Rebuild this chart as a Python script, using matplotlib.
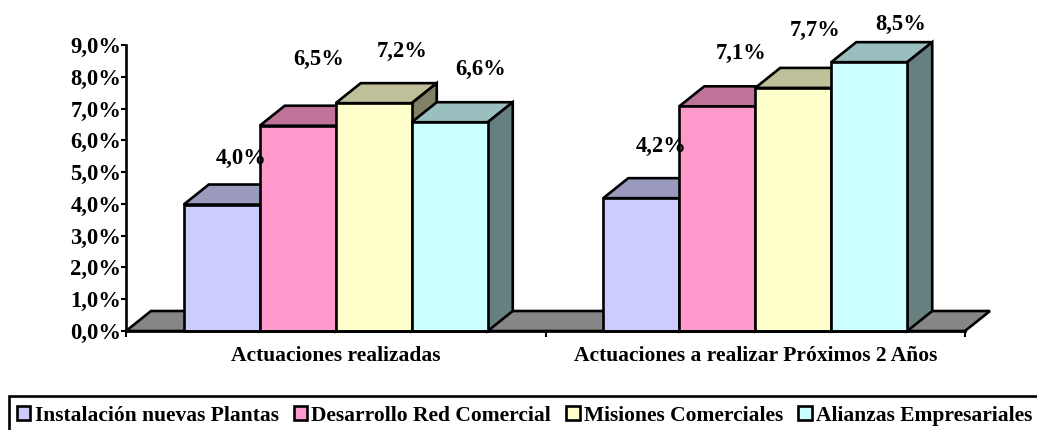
#!/usr/bin/env python
# grouped pseudo-3D column chart of company actions, front faces via ax.bar, depth faces via ax.fill
import matplotlib
matplotlib.use("Agg")
import matplotlib.pyplot as plt
from matplotlib.patches import Patch, Rectangle
from matplotlib.ticker import FuncFormatter

plt.rcParams['font.family'] = ['Liberation Serif', 'DejaVu Serif']
plt.rcParams['font.weight'] = 'bold'

categories = ["Actuaciones realizadas", "Actuaciones a realizar Próximos 2 Años"]
series_names = ["Instalación nuevas Plantas", "Desarrollo Red Comercial",
                "Misiones Comerciales", "Alianzas Empresariales"]
bar_values = [[3.98, 4.18], [6.46, 7.07], [7.17, 7.65], [6.57, 8.46]]
label_values = [[4.0, 4.2], [6.5, 7.1], [7.2, 7.7], [6.6, 8.5]]

# styles: front, top, side colours
front_colors = ["#ccccff", "#ff99cc", "#ffffcc", "#ccffff"]
top_colors = ["#9a9abf", "#bf7399", "#bfbf9a", "#9abfbf"]
side_colors = ["#7a7a99", "#995c7a", "#808066", "#668080"]
floor_color = "#868686"

# label offsets from the bar top, in pixels (they are hand placed in the original)
label_dx = [[19, 20], [21, 24], [28, 22], [31, 31]]
label_dy = [[46, 52], [66, 53], [52, 57], [53, 38]]

W, H = 1037, 430
fig = plt.figure(figsize=(W / 100, H / 100), dpi=100)
left, right, top, bottom = 126, 965, 45, 331
ax = fig.add_axes([left / W, 1 - bottom / H, (right - left) / W, (bottom - top) / H])
ax.set_xlim(0, 2)
ax.set_ylim(0, 9)
ax.patch.set_visible(False)

# depth of the 3D effect in data units
depth_x = 25 / ((right - left) / 2)
depth_y = 20 / ((bottom - top) / 9)
bar_w = 76 / ((right - left) / 2)
px = 72 / 100
lw = 1.9

# floor
ax.fill([0, 2, 2 + depth_x, depth_x], [0, 0, depth_y, depth_y], facecolor=floor_color,
        edgecolor="black", linewidth=lw, clip_on=False, zorder=1)

z = 2
for c in range(len(categories)):
    for s in range(len(series_names)):
        x0 = c + 0.5 + (s - 2) * bar_w
        x1 = x0 + bar_w
        v = bar_values[s][c]
        ax.fill([x0, x1, x1 + depth_x, x0 + depth_x], [v, v, v + depth_y, v + depth_y],
                facecolor=top_colors[s], edgecolor="black", linewidth=lw, clip_on=False, zorder=z)
        ax.fill([x1, x1 + depth_x, x1 + depth_x, x1], [0, depth_y, v + depth_y, v],
                facecolor=side_colors[s], edgecolor="black", linewidth=lw, clip_on=False, zorder=z)
        ax.bar(x0, v, width=bar_w, align='edge', color=front_colors[s], edgecolor="black",
               linewidth=lw, clip_on=False, zorder=z + 0.5)
        z += 1

for c in range(len(categories)):
    for s in range(len(series_names)):
        x0 = c + 0.5 + (s - 2) * bar_w
        ax.annotate(f"{label_values[s][c]:.1f}%".replace(".", ","),
                    xy=(x0 + bar_w / 2, bar_values[s][c]),
                    xytext=(label_dx[s][c] * px, label_dy[s][c] * px), textcoords='offset points',
                    ha='center', va='center', fontsize=16.3, fontweight='bold', zorder=50,
                    annotation_clip=False)

for side in ['top', 'right']:
    ax.spines[side].set_visible(False)
ax.spines['left'].set_linewidth(lw)
ax.spines['bottom'].set_linewidth(lw)
ax.spines['left'].set_zorder(40)
ax.spines['bottom'].set_zorder(40)

ax.set_yticks(range(10))
ax.yaxis.set_major_formatter(FuncFormatter(lambda v, pos: f"{v:.1f}%".replace(".", ",")))
ax.set_xticks([0, 1, 2])
ax.set_xticklabels([])
ax.tick_params(axis='y', length=3.5, width=1.5, pad=0, labelsize=16.3)
ax.tick_params(axis='x', length=4, width=1.5)
for c, name in enumerate(categories):
    ax.annotate(name, xy=(c + 0.5, 0), xytext=(0, -25 * px), textcoords='offset points',
                ha='center', va='center', fontsize=15.5, fontweight='bold')

# legend box runs off the right and bottom of the image
fig.add_artist(Rectangle((9 / W, -10 / H), 1040 / W, (10 + 34) / H, transform=fig.transFigure,
                         facecolor="white", edgecolor="black", linewidth=lw))
handles = [Patch(facecolor=front_colors[s], edgecolor="black", linewidth=1.9, label=series_names[s])
           for s in range(len(series_names))]
leg = fig.legend(handles=handles, ncols=4, loc='center left', bbox_to_anchor=(17 / W, 1 - 416 / H),
                 bbox_transform=fig.transFigure, borderaxespad=0, frameon=False,
                 prop={'family': 'Liberation Serif', 'weight': 'bold', 'size': 15.5},
                 handlelength=0.62, handleheight=0.62, handletextpad=0.2, columnspacing=0.7, borderpad=0)

fig.savefig("out.png", dpi=100)
